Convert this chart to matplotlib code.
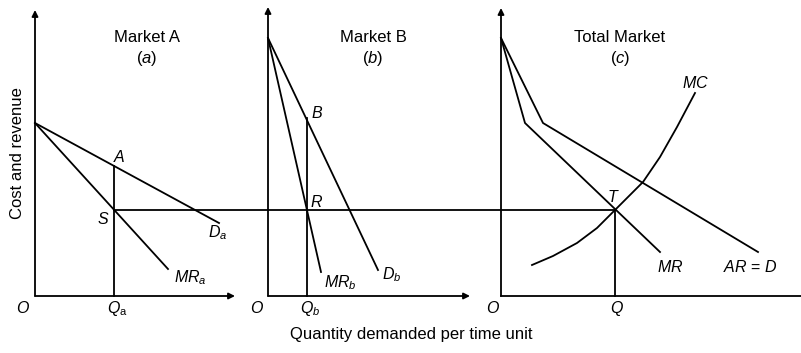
import matplotlib
matplotlib.use('Agg')
import matplotlib.pyplot as plt

plt.rcParams['font.family'] = ['Liberation Sans', 'DejaVu Sans']
plt.rcParams['mathtext.fontset'] = 'custom'
plt.rcParams['mathtext.it'] = 'Liberation Sans:italic'
plt.rcParams['mathtext.rm'] = 'Liberation Sans'

# Market A: (quantity, price)
da_q = [0, 184]
da_p = [173, 73]
mra_q = [0, 133]
mra_p = [173, 27]
qa = 79
pa = 130

# Market B
db_q = [0, 110]
db_p = [258, 26]
mrb_q = [0, 53]
mrb_p = [258, 24]
qb = 39
pb = 178

# Total market (kinked AR and MR, rising MC)
ar_q = [0, 42, 257]
ar_p = [258, 173, 44]
mr_q = [0, 24, 159]
mr_p = [258, 173, 44]
mc_q = [31, 52, 76, 96, 114, 129, 142, 159, 176, 194]
mc_p = [31, 40, 53, 68, 86, 101, 114, 139, 169, 203]
q_tot = 114
p_eq = 86   # MC = MR level, shared by all markets

# panel origins along x (layout)
xa, xb, xc = 35, 268, 501

fig = plt.figure(figsize=(8.01, 3.53), dpi=100)
ax = fig.add_axes([0, 0, 1, 1])
ax.set_xlim(0, 801)
ax.set_ylim(-57, 296)
ax.axis('off')

lw = 1.3
k = 'black'
arrow = dict(arrowstyle='-|>', lw=lw, color=k, mutation_scale=9, shrinkA=0, shrinkB=0)

def shift(q, x0):
    return [x0 + v for v in q]

# axes of each panel
ax.annotate('', xy=(xa, 286), xytext=(xa, 0), arrowprops=arrow)
ax.annotate('', xy=(xa + 200, 0), xytext=(xa, 0), arrowprops=arrow)
ax.annotate('', xy=(xb, 289), xytext=(xb, 0), arrowprops=arrow)
ax.annotate('', xy=(xb + 202, 0), xytext=(xb, 0), arrowprops=arrow)
ax.annotate('', xy=(xc, 288), xytext=(xc, 0), arrowprops=arrow)
ax.plot([xc, xc + 300], [0, 0], color=k, lw=lw)

# curves
ax.plot(shift(da_q, xa), da_p, color=k, lw=lw)
ax.plot(shift(mra_q, xa), mra_p, color=k, lw=lw)
ax.plot(shift(db_q, xb), db_p, color=k, lw=lw)
ax.plot(shift(mrb_q, xb), mrb_p, color=k, lw=lw)
ax.plot(shift(ar_q, xc), ar_p, color=k, lw=lw)
ax.plot(shift(mr_q, xc), mr_p, color=k, lw=lw)
ax.plot(shift(mc_q, xc), mc_p, color=k, lw=lw)

# equilibrium lines
ax.plot([xa + qa, xc + q_tot], [p_eq, p_eq], color=k, lw=lw)
ax.plot([xa + qa, xa + qa], [0, pa], color=k, lw=lw)
ax.plot([xb + qb, xb + qb], [0, pb], color=k, lw=lw)
ax.plot([xc + q_tot, xc + q_tot], [0, p_eq], color=k, lw=lw)

# titles
fs = 12
for x0, name, sub in [(xa + 112, 'Market A', '$(a)$'),
                      (xb + 105, 'Market B', '$(b)$'),
                      (xc + 119, 'Total Market', '$(c)$')]:
    ax.text(x0, 258, name, ha='center', va='center', fontsize=fs)
    ax.text(x0, 237, sub, ha='center', va='center', fontsize=fs)

# point and curve labels
lf = 11.5
labels = [
    (xa + 84, 139, '$A$'), (xa + 68, 77, '$S$'),
    (xa + 183, 63, '$D_a$'), (xa + 155, 18, '$MR_a$'),
    (xb + 49, 183, '$B$'), (xb + 49, 94, '$R$'),
    (xb + 72, 13, '$MR_b$'), (xb + 124, 21, '$D_b$'),
    (xc + 194, 213, '$MC$'), (xc + 112, 99, '$T$'),
    (xc + 169, 29, '$MR$'), (xc + 249, 29, '$AR$ = $D$'),
    (xa - 12, -12, '$O$'), (xb - 11, -12, '$O$'), (xc - 8, -12, '$O$'),
    (xa + qa + 3, -13, r'$Q_\mathrm{a}$'), (xb + qb + 3, -13, '$Q_b$'),
    (xc + q_tot + 2, -12, '$Q$'),
]
for x, y, s in labels:
    ax.text(x, y, s, ha='center', va='center', fontsize=lf)

ax.text(411, -39, 'Quantity demanded per time unit', ha='center', va='center', fontsize=fs)
ax.text(18, 143, 'Cost and revenue', ha='center', va='center', rotation=90, fontsize=fs)

fig.savefig('out.png', dpi=100)
